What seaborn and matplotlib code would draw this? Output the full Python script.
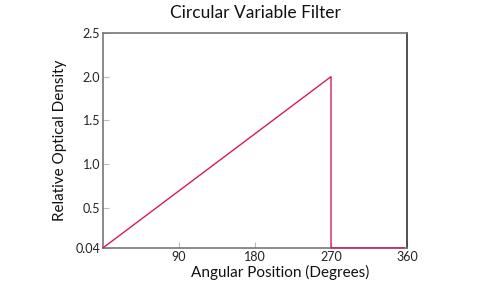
import matplotlib
matplotlib.use("Agg")
import matplotlib.pyplot as plt
import seaborn as sns
import pandas as pd

# Data
angle = [0, 270, 270, 357]
density = [0.04, 2.0, 0.04, 0.04]
x_ticks = [90, 180, 270, 360]
y_ticks = [0.04, 0.5, 1.0, 1.5, 2.0, 2.5]
y_tick_labels = ["0.04", "0.5", "1.0", "1.5", "2.0", "2.5"]

sns.set_theme(style="white")
plt.rcParams['font.family'] = ['Lato', 'DejaVu Sans']

df = pd.DataFrame({"angle": angle, "density": density})

fig = plt.figure(figsize=(4.8, 2.89), dpi=100)
ax = fig.add_axes([103/480, 1 - 248.3/289, (407-103)/480, (248.3-33)/289])

sns.lineplot(data=df, x="angle", y="density", estimator=None, sort=False,
             color="#d81b5a", linewidth=1.0, ax=ax, clip_on=False, zorder=5)

ax.set_xlim(0, 360)
ax.set_ylim(0.035, 2.5)
ax.set_xticks(x_ticks)
ax.set_xticklabels([str(t) for t in x_ticks])
ax.set_yticks(y_ticks)
ax.set_yticklabels(y_tick_labels)

ax.tick_params(axis="both", direction="in", length=4, width=0.8, color="#bbbbbb",
               labelsize=9, labelcolor="#222222", pad=2)
ax.tick_params(left=True, bottom=True)

for side in ["left", "top", "bottom"]:
    ax.spines[side].set_visible(True)
    ax.spines[side].set_color("#777777")
    ax.spines[side].set_linestyle((0, (1, 1)))
    ax.spines[side].set_linewidth(1.2)
ax.spines["right"].set_visible(True)
ax.spines["right"].set_color("#333333")
ax.spines["right"].set_linewidth(1.2)

ax.set_xlabel("Angular Position (Degrees)", fontsize=11, color="#111111")
ax.xaxis.set_label_coords(0.582, -0.075, transform=ax.transAxes)
ax.xaxis.label.set_va("top")
ax.set_ylabel("Relative Optical Density", fontsize=11, color="#111111", labelpad=6)
ax.set_title("Circular Variable Filter", fontsize=12.5, color="#111111", pad=11)

fig.savefig("out.png", dpi=100)
